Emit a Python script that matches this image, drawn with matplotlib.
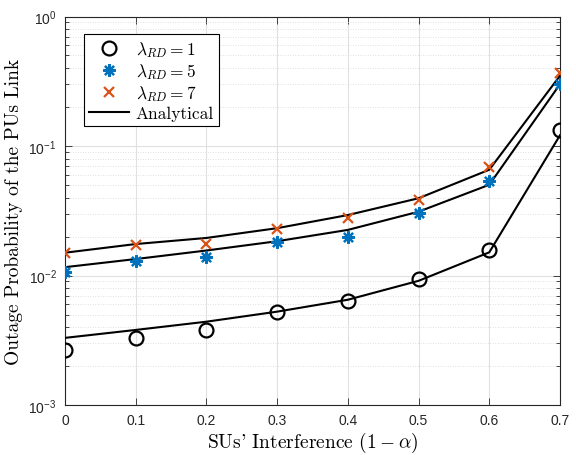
import numpy as np
import matplotlib
matplotlib.use("Agg")
import matplotlib.pyplot as plt
from matplotlib.ticker import FixedLocator, NullFormatter

plt.rcParams['mathtext.fontset'] = 'cm'
plt.rcParams['mathtext.rm'] = 'Liberation Sans'
plt.rcParams['axes.unicode_minus'] = False

# interference levels (1 - alpha)
interference = [0.0, 0.1, 0.2, 0.3, 0.4, 0.5, 0.6, 0.7]

# simulated outage probability for each lambda_RD
sim_rd1 = [0.00266, 0.00329, 0.00382, 0.00526, 0.00632, 0.0094, 0.0157, 0.133]
sim_rd5 = [0.0107, 0.0130, 0.0140, 0.0180, 0.0197, 0.0302, 0.0534, 0.301]
sim_rd7 = [0.0148, 0.0173, 0.0175, 0.0229, 0.0278, 0.0383, 0.0685, 0.366]

# analytical curves
ana_rd1 = [0.00330, 0.00380, 0.00440, 0.00526, 0.0065, 0.0091, 0.0151, 0.121]
ana_rd5 = [0.0116, 0.0134, 0.0156, 0.0184, 0.0225, 0.0311, 0.0502, 0.300]
ana_rd7 = [0.0150, 0.0175, 0.0195, 0.0232, 0.0293, 0.0395, 0.0656, 0.349]

xticks = [0, 0.1, 0.2, 0.3, 0.4, 0.5, 0.6, 0.7]
xticklabels = ['0', '0.1', '0.2', '0.3', '0.4', '0.5', '0.6', '0.7']
yticks = [1e-3, 1e-2, 1e-1, 1e0]
yticklabels = [r'$10^{-3}$', r'$10^{-2}$', r'$10^{-1}$', r'$10^{0}$']

blue = '#0072BD'
orange = '#D95319'

fig = plt.figure(figsize=(5.76, 4.56), dpi=100)
ax = fig.add_axes([0.1128, 0.1096, 0.8594, 0.852])

ax.plot(interference, ana_rd1, color='k', lw=1.5, zorder=3)
ax.plot(interference, ana_rd5, color='k', lw=1.5, zorder=3)
ax.plot(interference, ana_rd7, color='k', lw=1.5, zorder=3)

h1, = ax.plot(interference, sim_rd1, ls='none', marker='o', ms=10, mfc='none',
              mec='k', mew=1.6, zorder=4)
h5, = ax.plot(interference, sim_rd5, ls='none', marker=(8, 2, 0), ms=9,
              mec=blue, mew=1.6, zorder=4)
h7, = ax.plot(interference, sim_rd7, ls='none', marker='x', ms=7,
              mec=orange, mew=1.6, zorder=4)
ha, = ax.plot([], [], color='k', lw=1.5)

ax.set_yscale('log')
ax.set_xlim(0, 0.7)
ax.set_ylim(1e-3, 1e0)

ax.set_xticks(xticks)
ax.set_xticklabels(xticklabels, fontsize=10, family='Liberation Sans',
                   color='#262626')
ax.set_yticks(yticks)
ax.set_yticklabels(yticklabels, fontsize=10, color='#262626')
for lab in ax.get_yticklabels():
    lab.set_math_fontfamily('custom')
minor = [m * 10.0 ** k for k in (-3, -2, -1) for m in range(2, 10)]
ax.yaxis.set_minor_locator(FixedLocator(minor))
ax.yaxis.set_minor_formatter(NullFormatter())

ax.tick_params(which='both', direction='in', top=True, right=True,
               color='#262626', width=0.6)
ax.tick_params(which='major', length=5, pad=6)
ax.tick_params(which='minor', length=3)
ax.grid(True, which='major', color='#e0e0e0', lw=0.8, ls='-')
ax.grid(True, which='minor', axis='y', color='#d6d6d6', lw=0.6, ls=(0, (1, 2)))
ax.set_axisbelow(True)
for s in ax.spines.values():
    s.set_color('#262626')
    s.set_linewidth(0.8)

ax.set_xlabel(r"SUs' Interference $(1-\alpha)$", fontsize=14, family='cmr10',
              labelpad=2)
ax.set_ylabel('Outage Probability of the PUs Link', fontsize=14, family='cmr10',
              labelpad=4)

leg = ax.legend([h1, h5, h7, ha],
                [r'$\lambda_{RD}=1$', r'$\lambda_{RD}=5$', r'$\lambda_{RD}=7$',
                 'Analytical'],
                loc='upper left', bbox_to_anchor=(0.038, 0.955),
                prop={'family': 'cmr10', 'size': 12.5},
                frameon=True, fancybox=False, edgecolor='k', framealpha=1,
                handlelength=2.3, handletextpad=0.4, borderpad=0.3,
                labelspacing=0.12, borderaxespad=0)
leg.get_frame().set_linewidth(0.8)

fig.savefig('out.png', dpi=100)
